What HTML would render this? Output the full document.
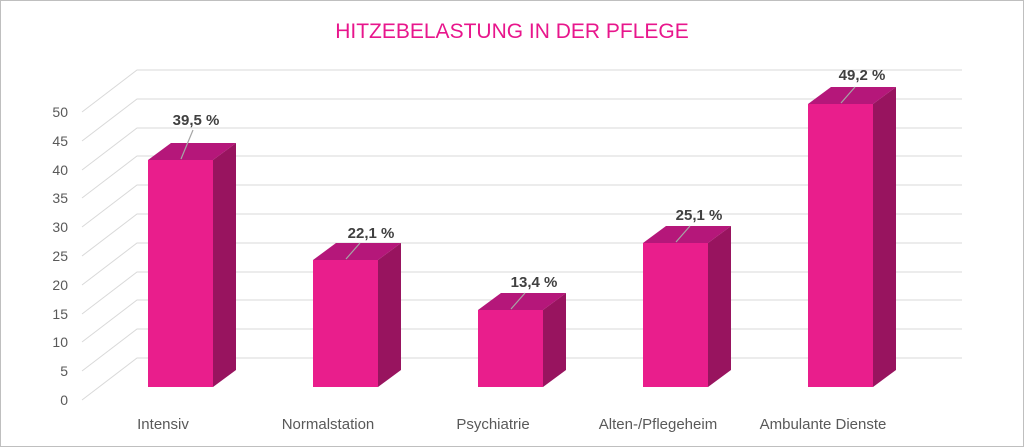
<!DOCTYPE html>
<html><head><meta charset="utf-8"><style>
html,body{margin:0;padding:0;background:#fff}
svg{display:block;font-family:"Liberation Sans",Calibri,sans-serif}
</style></head><body>
<svg width="1024" height="447" viewBox="0 0 1024 447">
<rect x="0.5" y="0.5" width="1023" height="446" fill="#fff" stroke="#bfbfbf" stroke-width="1"/>
<text x="512" y="38" text-anchor="middle" font-size="21" fill="#e8168c">HITZEBELASTUNG IN DER PFLEGE</text>
<g stroke="#d9d9d9" stroke-width="1" fill="none">
<path d="M82 400L137 358H962M82 371L137 329H962M82 342L137 300H962M82 314L137 272H962M82 285L137 243H962M82 256L137 214H962M82 227L137 185H962M82 198L137 156H962M82 170L137 128H962M82 141L137 99H962M82 112L137 70H962"/>
</g>
<g font-size="14" fill="#595959" text-anchor="end">
<text x="68" y="405">0</text><text x="68" y="376">5</text><text x="68" y="347">10</text><text x="68" y="319">15</text><text x="68" y="290">20</text><text x="68" y="261">25</text><text x="68" y="232">30</text><text x="68" y="203">35</text><text x="68" y="175">40</text><text x="68" y="146">45</text><text x="68" y="117">50</text>
</g>
<g>
<polygon points="148,160 171,143 236,143 213,160" fill="#b5177a"/><polygon points="213,160 236,143 236,370 213,387" fill="#98145f"/><rect x="148" y="160" width="65" height="227" fill="#e91e8c"/>
<polygon points="313,260 336,243 401,243 378,260" fill="#b5177a"/><polygon points="378,260 401,243 401,370 378,387" fill="#98145f"/><rect x="313" y="260" width="65" height="127" fill="#e91e8c"/>
<polygon points="478,310 501,293 566,293 543,310" fill="#b5177a"/><polygon points="543,310 566,293 566,370 543,387" fill="#98145f"/><rect x="478" y="310" width="65" height="77" fill="#e91e8c"/>
<polygon points="643,243 666,226 731,226 708,243" fill="#b5177a"/><polygon points="708,243 731,226 731,370 708,387" fill="#98145f"/><rect x="643" y="243" width="65" height="144" fill="#e91e8c"/>
<polygon points="808,104 831,87 896,87 873,104" fill="#b5177a"/><polygon points="873,104 896,87 896,370 873,387" fill="#98145f"/><rect x="808" y="104" width="65" height="283" fill="#e91e8c"/>
</g>
<g stroke="#a6a6a6" stroke-width="1.2">
<line x1="181" y1="159" x2="193" y2="130"/>
<line x1="346" y1="259" x2="360" y2="243"/>
<line x1="511" y1="309" x2="525" y2="293"/>
<line x1="676" y1="242" x2="690" y2="226"/>
<line x1="841" y1="103" x2="855" y2="87"/>
</g>
<g font-size="15" font-weight="bold" fill="#404040" text-anchor="middle">
<text x="196" y="125">39,5 %</text>
<text x="371" y="238">22,1 %</text>
<text x="534" y="287">13,4 %</text>
<text x="699" y="220">25,1 %</text>
<text x="862" y="80">49,2 %</text>
</g>
<g font-size="15" fill="#595959" text-anchor="middle">
<text x="163" y="429">Intensiv</text>
<text x="328" y="429">Normalstation</text>
<text x="493" y="429">Psychiatrie</text>
<text x="658" y="429">Alten-/Pflegeheim</text>
<text x="823" y="429">Ambulante Dienste</text>
</g>
</svg>
</body></html>
